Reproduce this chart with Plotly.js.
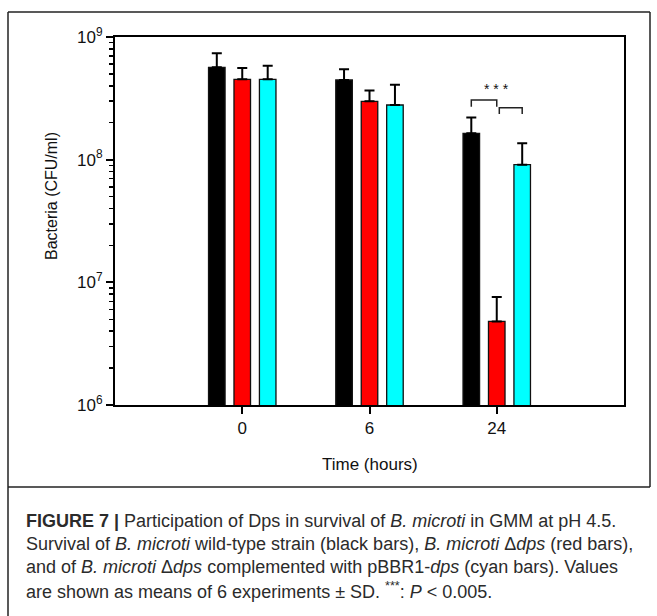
<!DOCTYPE html>
<html>
<head>
<meta charset="utf-8">
<script src="https://cdn.plot.ly/plotly-3.0.1.min.js"></script>
<style>html,body{margin:0;padding:0;background:#fff;}#chart{width:657px;height:616px;}</style>
</head>
<body>
<div id="chart"></div>
<script>
// ---- data ----
const timeLabels = ["0", "6", "24"];               // Time (hours)
const wildType   = [5.66e8, 4.46e8, 1.64e8];       // black bars (CFU/ml)
const wildTypeSD = [1.70e8, 0.99e8, 0.57e8];
const deltaDps   = [4.52e8, 2.99e8, 4.8e6];        // red bars
const deltaDpsSD = [1.07e8, 0.68e8, 2.8e6];
const compl      = [4.52e8, 2.79e8, 9.1e7];        // cyan bars
const complSD    = [1.32e8, 1.29e8, 0.45e8];
const yTickVals  = [1e6, 1e7, 1e8, 1e9];
const yTickText  = ["10<sup>6</sup>", "10<sup>7</sup>", "10<sup>8</sup>", "10<sup>9</sup>"];

const FONT = "Liberation Sans, Arial, Helvetica, sans-serif";
const CAPFONT = "Liberation Sans, Arial, Helvetica, sans-serif";
const xPos = timeLabels.map((_, i) => i);
const zeros = timeLabels.map(() => 0);

function barTrace(name, y, sd, color) {
  return {
    type: "bar", name: name, x: xPos, y: y,
    marker: {color: color, line: {color: "#111", width: 1.3}},
    error_y: {type: "data", symmetric: false, array: sd, arrayminus: zeros,
              visible: true, color: "#000", thickness: 2, width: 5}
  };
}

const data = [
  barTrace("wild-type", wildType, wildTypeSD, "#000000"),
  barTrace("Δdps", deltaDps, deltaDpsSD, "#ff0000"),
  barTrace("Δdps + pBBR1-dps", compl, complSD, "#00ffff")
];

const px = v => (v - 115) / 509;   // helpers to place frame/caption in paper units
const py = v => (405 - v) / 368;

const captionLines = [
  "<b>FIGURE 7 |</b> Participation of Dps in survival of <i>B. microti</i> in GMM at pH 4.5.",
  "Survival of <i>B. microti</i> wild-type strain (black bars), <i>B. microti</i> Δ<i>dps</i> (red bars),",
  "and of <i>B. microti</i> Δ<i>dps</i> complemented with pBBR1-<i>dps</i> (cyan bars). Values",
  "are shown as means of 6 experiments ± SD. <sup>***</sup>: <i>P</i> &lt; 0.005."
];
const captionY = [520.5, 543.5, 567, 590.5];

const annotations = [
  {text: "Bacteria (CFU/ml)", xref: "paper", yref: "paper", x: px(51), y: py(196),
   xanchor: "center", yanchor: "middle",
   textangle: -90, showarrow: false, font: {family: FONT, size: 16, color: "#111"}},
  {text: "Time (hours)", xref: "paper", yref: "paper", x: 0.5, y: py(464),
   xanchor: "center", yanchor: "middle",
   showarrow: false, font: {family: FONT, size: 17, color: "#111"}},
  {text: "* * *", xref: "x", yref: "y", x: 2.0, y: 8.58, showarrow: false,
   xanchor: "center", yanchor: "middle",
   font: {family: FONT, size: 14, color: "#111"}}
];
captionLines.forEach((t, i) => annotations.push({
  text: t, xref: "paper", yref: "paper", x: px(24), y: py(captionY[i]),
  xanchor: "left", yanchor: "middle", showarrow: false, align: "left",
  font: {family: CAPFONT, size: 18, color: "#2b2b2b"}
}));

const shapes = [
  // outer figure frame
  {type: "line", xref: "paper", yref: "paper", x0: px(8), x1: px(650), y0: py(12), y1: py(12), line: {color: "#222", width: 1.5}},
  {type: "line", xref: "paper", yref: "paper", x0: px(8), x1: px(8), y0: py(12), y1: py(616), line: {color: "#222", width: 1.5}},
  {type: "line", xref: "paper", yref: "paper", x0: px(650), x1: px(650), y0: py(12), y1: py(487), line: {color: "#222", width: 1.5}},
  {type: "line", xref: "paper", yref: "paper", x0: px(8), x1: px(650), y0: py(487), y1: py(487), line: {color: "#222", width: 1.5}},
  // significance brackets
  {type: "path", xref: "x", yref: "paper",
   path: `M 1.8,${py(106.7)} L 1.8,${py(100)} L 2.0,${py(100)} L 2.0,${py(106.7)}`,
   line: {color: "#222", width: 1.5}},
  {type: "path", xref: "x", yref: "paper",
   path: `M 2.02,${py(114)} L 2.02,${py(107.7)} L 2.2,${py(107.7)} L 2.2,${py(114)}`,
   line: {color: "#222", width: 1.5}}
];

const layout = {
  width: 657, height: 616,
  margin: {l: 115, r: 33, t: 37, b: 211, pad: 0},
  paper_bgcolor: "#fff", plot_bgcolor: "#fff",
  showlegend: false,
  barmode: "group", bargap: 0.4, bargroupgap: 0.35,
  font: {family: FONT, size: 16, color: "#111"},
  xaxis: {
    type: "linear", range: [-1, 3], tickmode: "array", tickvals: xPos, ticktext: timeLabels,
    showline: true, linecolor: "#000", linewidth: 2, mirror: true,
    ticks: "outside", ticklen: 7, tickwidth: 2, tickcolor: "#000",
    showgrid: false, zeroline: false,
    tickfont: {family: FONT, size: 17, color: "#111"}
  },
  yaxis: {
    type: "log", range: [6, 9], tickmode: "array", tickvals: yTickVals, ticktext: yTickText,
    showline: true, linecolor: "#000", linewidth: 2, mirror: true,
    ticks: "outside", ticklen: 7, tickwidth: 2, tickcolor: "#000",
    minor: {ticks: "outside", ticklen: 4, tickwidth: 1.5, tickcolor: "#000", dtick: "D1", showgrid: false},
    showgrid: false, zeroline: false,
    tickfont: {family: FONT, size: 17, color: "#111"}
  },
  annotations: annotations,
  shapes: shapes
};

Plotly.newPlot("chart", data, layout, {displayModeBar: false, staticPlot: true});
</script>
</body>
</html>
